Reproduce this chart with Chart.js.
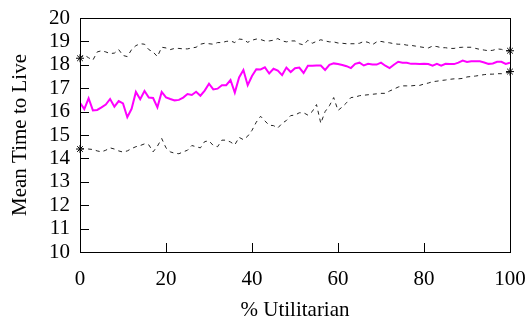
<!DOCTYPE html>
<html>
<head>
<meta charset="utf-8">
<script src="https://cdn.jsdelivr.net/npm/chart.js@4"></script>
<style>
  html, body { margin: 0; padding: 0; background: #fff; }
  canvas { display: block; }
</style>
</head>
<body>
<canvas id="ttl" width="530" height="321"></canvas>
<script>
// % utilitarian agents in the population
const pctUtil = [0, 1, 2, 3, 4, 5, 6, 7, 8, 9, 10, 11, 12, 13, 14, 15, 16, 17, 18, 19, 20,
  21, 22, 23, 24, 25, 26, 27, 28, 29, 30, 31, 32, 33, 34, 35, 36, 37, 38, 39, 40,
  41, 42, 43, 44, 45, 46, 47, 48, 49, 50, 51, 52, 53, 54, 55, 56, 57, 58, 59, 60,
  61, 62, 63, 64, 65, 66, 67, 68, 69, 70, 71, 72, 73, 74, 75, 76, 77, 78, 79, 80,
  81, 82, 83, 84, 85, 86, 87, 88, 89, 90, 91, 92, 93, 94, 95, 96, 97, 98, 99, 100];

// mean time to live
const meanTTL = [16.38, 16.11, 16.57, 16.05, 16.07, 16.18, 16.30, 16.54, 16.21, 16.45, 16.35,
  15.76, 16.12, 16.84, 16.53, 16.88, 16.60, 16.58, 16.18, 16.84, 16.61,
  16.54, 16.48, 16.50, 16.60, 16.75, 16.71, 16.85, 16.68, 16.90, 17.19,
  16.95, 16.98, 17.13, 17.13, 17.35, 16.81, 17.46, 17.78, 17.13, 17.52,
  17.81, 17.80, 17.89, 17.63, 17.83, 17.75, 17.56, 17.88, 17.69, 17.85,
  17.88, 17.65, 17.96, 17.96, 17.97, 17.97, 17.78, 18.00, 18.06, 18.03,
  17.99, 17.94, 17.86, 18.04, 18.09, 17.97, 18.04, 18.01, 18.01, 18.09,
  17.96, 17.86, 18.00, 18.13, 18.09, 18.09, 18.04, 18.04, 18.03, 18.04,
  18.03, 17.96, 18.04, 17.96, 18.04, 18.03, 18.03, 18.09, 18.18, 18.12,
  18.15, 18.15, 18.15, 18.10, 18.04, 18.06, 18.13, 18.13, 18.04, 18.09];

// upper bound (dashed)
const upperTTL = [18.28, 18.42, 18.30, 18.20, 18.55, 18.60, 18.55, 18.48, 18.50, 18.65, 18.40,
  18.35, 18.65, 18.82, 18.90, 18.88, 18.65, 18.55, 18.35, 18.75, 18.72,
  18.65, 18.70, 18.70, 18.68, 18.68, 18.72, 18.75, 18.88, 18.92, 18.90,
  18.88, 18.95, 18.95, 19.00, 19.02, 18.95, 19.10, 19.08, 18.96, 19.05,
  19.10, 19.08, 19.02, 19.02, 19.05, 19.12, 19.02, 18.98, 19.02, 19.02,
  18.90, 18.85, 19.05, 18.92, 19.00, 19.07, 19.02, 18.98, 18.98, 18.93,
  18.92, 18.90, 18.90, 18.90, 18.92, 19.00, 18.96, 18.86, 18.98, 19.00,
  18.96, 18.94, 18.90, 18.88, 18.88, 18.84, 18.83, 18.80, 18.77, 18.74,
  18.72, 18.80, 18.78, 18.73, 18.73, 18.70, 18.70, 18.74, 18.75, 18.75,
  18.75, 18.70, 18.66, 18.63, 18.60, 18.62, 18.68, 18.66, 18.60, 18.60];

// lower bound (dashed)
const lowerTTL = [14.40, 14.42, 14.40, 14.38, 14.32, 14.28, 14.35, 14.45, 14.40, 14.32, 14.27,
  14.32, 14.42, 14.50, 14.55, 14.62, 14.58, 14.28, 14.52, 14.85, 14.45,
  14.28, 14.22, 14.20, 14.28, 14.35, 14.55, 14.50, 14.45, 14.72, 14.75,
  14.55, 14.50, 14.78, 14.78, 14.70, 14.58, 14.90, 14.80, 14.95, 15.20,
  15.55, 15.80, 15.60, 15.42, 15.40, 15.30, 15.50, 15.62, 15.83, 15.85,
  15.95, 15.95, 15.85, 16.00, 16.30, 15.50, 16.00, 16.25, 16.60, 16.05,
  16.20, 16.38, 16.60, 16.62, 16.68, 16.70, 16.72, 16.74, 16.76, 16.78,
  16.78, 16.88, 16.96, 17.05, 17.10, 17.10, 17.10, 17.12, 17.12, 17.18,
  17.22, 17.28, 17.30, 17.33, 17.35, 17.38, 17.40, 17.40, 17.42, 17.48,
  17.50, 17.52, 17.55, 17.58, 17.60, 17.60, 17.62, 17.62, 17.65, 17.71];

const FONT = 'Liberation Serif, Times New Roman, serif';

function pts(values) {
  return pctUtil.map((p, i) => ({ x: p, y: values[i] }));
}

// star only on the two end points
function endStar(ctx) {
  return (ctx.dataIndex === 0 || ctx.dataIndex === pctUtil.length - 1) ? 4 : 0;
}

// gnuplot style box with inward ticks
const frameTicks = {
  id: 'frameTicks',
  afterDatasetsDraw(chart) {
    const { ctx, chartArea: a, scales: { x, y } } = chart;
    ctx.save();
    ctx.strokeStyle = '#000';
    ctx.lineWidth = 1;
    ctx.beginPath();
    y.ticks.forEach(t => {
      const py = Math.round(y.getPixelForValue(t.value)) + 0.5;
      ctx.moveTo(a.left, py);
      ctx.lineTo(a.left + 9, py);
    });
    x.ticks.forEach(t => {
      const px = Math.round(x.getPixelForValue(t.value)) + 0.5;
      ctx.moveTo(px, a.bottom);
      ctx.lineTo(px, a.bottom - 9);
    });
    ctx.stroke();
    ctx.strokeRect(Math.round(a.left) + 0.5, Math.round(a.top) + 0.5,
      Math.round(a.right - a.left), Math.round(a.bottom - a.top));
    ctx.restore();
  }
};

new Chart(document.getElementById('ttl'), {
  type: 'line',
  data: {
    datasets: [
      {
        label: 'upper',
        data: pts(upperTTL),
        borderColor: '#222',
        borderWidth: 1,
        borderDash: [4, 4],
        pointStyle: 'star',
        pointRadius: endStar,
        pointBorderColor: '#000',
        pointBorderWidth: 1,
        tension: 0,
        clip: false
      },
      {
        label: 'lower',
        data: pts(lowerTTL),
        borderColor: '#222',
        borderWidth: 1,
        borderDash: [4, 4],
        pointStyle: 'star',
        pointRadius: endStar,
        pointBorderColor: '#000',
        pointBorderWidth: 1,
        tension: 0,
        clip: false
      },
      {
        label: 'mean',
        data: pts(meanTTL),
        borderColor: '#ff00ff',
        borderWidth: 2,
        pointRadius: 0,
        tension: 0
      }
    ]
  },
  options: {
    responsive: false,
    animation: false,
    layout: { padding: { top: 18, right: 20, left: 0, bottom: 0 } },
    plugins: {
      legend: { display: false },
      tooltip: { enabled: false }
    },
    scales: {
      x: {
        type: 'linear',
        min: 0,
        max: 100,
        grid: { display: false, drawTicks: false },
        border: { display: false },
        ticks: { stepSize: 20, autoSkip: false, maxRotation: 0, padding: 15, color: '#000', font: { family: FONT, size: 21 } },
        title: { display: true, text: '% Utilitarian', color: '#000', padding: { top: 0, bottom: -2 }, font: { family: FONT, size: 21 } },
        afterFit: function (scale) {
          scale.height = 69;
          scale.paddingLeft = 0;
          scale.paddingRight = 0;
        }
      },
      y: {
        min: 10,
        max: 20,
        grid: { display: false, drawTicks: false },
        border: { display: false },
        ticks: { stepSize: 1, autoSkip: false, padding: 10, color: '#000', font: { family: FONT, size: 21 } },
        title: { display: true, text: 'Mean Time to Live', color: '#000', padding: { top: 8, bottom: 0 }, font: { family: FONT, size: 21 } },
        afterFit: function (scale) {
          scale.width = 80;
          scale.paddingTop = 0;
          scale.paddingBottom = 0;
        }
      }
    }
  },
  plugins: [frameTicks]
});
</script>
</body>
</html>
